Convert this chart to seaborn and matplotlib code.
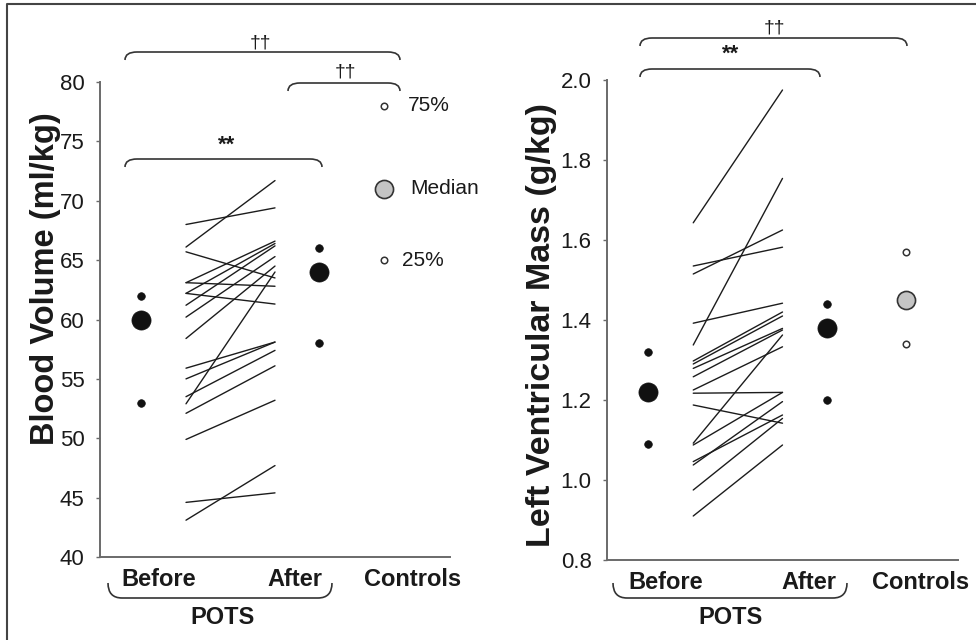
import numpy as np
import pandas as pd
import matplotlib
matplotlib.use("Agg")
import matplotlib.pyplot as plt
import matplotlib.transforms as mtransforms
from matplotlib.path import Path
from matplotlib.patches import PathPatch
from matplotlib.lines import Line2D
import seaborn as sns

# ---------------- data ----------------
categories = ["Before", "After", "Controls"]
group_label = "POTS"
legend_labels = ["75%", "Median", "25%"]

bv_before = [68.0, 66.1, 65.7, 63.1, 63.1, 62.2, 62.2, 61.2, 60.2, 58.4,
             52.9, 55.9, 55.0, 53.5, 52.1, 49.9, 44.6, 43.1]
bv_after = [69.4, 71.7, 63.5, 62.8, 66.6, 61.3, 66.4, 66.2, 65.3, 64.5,
            64.0, 58.1, 58.1, 57.4, 56.1, 53.2, 45.4, 47.7]
bv_q25 = [53, 58, 65]      # Before, After, Controls
bv_median = [60, 64, 71]
bv_q75 = [62, 66, 78]
bv_ticks = [40, 45, 50, 55, 60, 65, 70, 75, 80]

lvm_before = [1.643, 1.535, 1.515, 1.392, 1.3375, 1.2975, 1.29, 1.279, 1.258,
              1.225, 1.217, 1.1875, 1.092, 1.0875, 1.046, 1.0375, 0.975, 0.91]
lvm_after = [1.975, 1.582, 1.625, 1.442, 1.754, 1.42, 1.41, 1.379, 1.375,
             1.333, 1.219, 1.142, 1.3625, 1.219, 1.1625, 1.196, 1.154, 1.0875]
lvm_q25 = [1.09, 1.20, 1.34]
lvm_median = [1.22, 1.38, 1.45]
lvm_q75 = [1.32, 1.44, 1.57]
lvm_ticks = [0.8, 1.0, 1.2, 1.4, 1.6, 1.8, 2.0]

# ---------------- style ----------------
sns.set_style("white")
plt.rcParams["font.family"] = ["Liberation Sans", "DejaVu Sans"]

W, H = 976, 640
fig = plt.figure(figsize=(W / 100, H / 100), dpi=100)
T = mtransforms.Affine2D().scale(1 / W, -1 / H).translate(0, 1) + fig.transFigure

LINE_C = "#1c1c1c"
SPINE_C = "#6a6a6a"
TEXT_C = "#1a1a1a"


def add_axes(x0, x1, ytop, ybot):
    return fig.add_axes([x0 / W, (H - ybot) / H, (x1 - x0) / W, (ybot - ytop) / H])


def panel(ax, before, after, q25, med, q75, ylim, yticks, ylabel, fmt,
          x_ctrl, label_x, ylabel_coords, ylabel_size):
    xb, x0, x1, xa = 41, 86, 175, 219
    n = len(before)
    df = pd.DataFrame({
        "id": np.repeat(np.arange(n), 2),
        "x": np.tile([x0, x1], n),
        "v": np.column_stack([before, after]).ravel(),
    })
    sns.lineplot(data=df, x="x", y="v", units="id", estimator=None,
                 color=LINE_C, lw=1.0, ax=ax, legend=False)
    xs = [xb, xa, x_ctrl]
    sdf = pd.DataFrame({"x": xs, "q25": q25, "med": med, "q75": q75})
    pots = sdf.iloc[:2]
    ctrl = sdf.iloc[2:]
    sns.scatterplot(data=pots, x="x", y="med", s=190, color="#111111",
                    edgecolor="#111111", linewidth=0.5, ax=ax, zorder=5)
    for col in ["q25", "q75"]:
        sns.scatterplot(data=pots, x="x", y=col, s=30, color="#111111",
                        edgecolor="#111111", linewidth=0.5, ax=ax, zorder=5)
    sns.scatterplot(data=ctrl, x="x", y="med", s=170, color="#c4c4c4",
                    edgecolor="#333333", linewidth=1.2, ax=ax, zorder=5)
    for col in ["q25", "q75"]:
        sns.scatterplot(data=ctrl, x="x", y=col, s=22, color="white",
                        edgecolor="#333333", linewidth=1.1, ax=ax, zorder=5)

    ax.set_xlim(0, 350)
    ax.set_ylim(*ylim)
    ax.set_yticks(yticks)
    ax.set_yticklabels([fmt.format(t) for t in yticks])
    ax.set_xticks(label_x)
    ax.set_xticklabels(categories, fontweight="bold", fontsize=17, color=TEXT_C)
    ax.tick_params(axis="x", length=0, pad=8)
    ax.tick_params(axis="y", labelsize=16, length=3, width=1, color=SPINE_C,
                   pad=8, labelcolor=TEXT_C, left=True)
    ax.set_xlabel("")
    ax.set_ylabel(ylabel, fontsize=ylabel_size, fontweight="bold", color=TEXT_C)
    ax.yaxis.set_label_coords(*ylabel_coords)
    sns.despine(ax=ax)
    for s in ["left", "bottom"]:
        ax.spines[s].set_color(SPINE_C)
        ax.spines[s].set_linewidth(1.4)
    ax.set_facecolor("none")


axL = add_axes(100, 450, 82, 557)
panel(axL, bv_before, bv_after, bv_q25, bv_median, bv_q75, (40, 80), bv_ticks,
      "Blood Volume (ml/kg)", "{:g}", 284, [59, 195, 313], (-0.112, 0.586), 23.5)

axR = add_axes(607, 958, 80, 560)
panel(axR, lvm_before, lvm_after, lvm_q25, lvm_median, lvm_q75, (0.8, 2.0),
      lvm_ticks, "Left Ventricular Mass (g/kg)", "{:.1f}", 298, [59, 201, 313],
      (-0.143, 0.49), 24.5)

# legend labels beside control markers (left panel)
for lab, val, xo in zip(legend_labels, [bv_q75[2], bv_median[2], bv_q25[2]], [308, 310, 302]):
    axL.text(xo, val, lab, fontsize=15, va="center", ha="left", color=TEXT_C,
             clip_on=False)


# ---------------- brackets ----------------
def bracket(x0, x1, y, drop, r=12, lw=1.2):
    verts = [(x0, y + drop), (x0, y), (x0 + r, y), (x1 - r, y), (x1, y), (x1, y + drop)]
    codes = [Path.MOVETO, Path.CURVE3, Path.CURVE3, Path.LINETO, Path.CURVE3, Path.CURVE3]
    fig.add_artist(PathPatch(Path(verts, codes), fill=False, lw=lw, ec="#333333",
                             transform=T))


def ftext(x, y, s, **kw):
    fig.text(x / W, 1 - y / H, s, ha="center", va="center", color=TEXT_C, **kw)


bracket(125, 400, 52, 8)
ftext(260, 43, "††", fontsize=14)
bracket(288, 400, 83, 8)
ftext(345, 72, "††", fontsize=14)
bracket(125, 322, 159, 8)
ftext(227, 145, "**", fontsize=16, fontweight="bold")

bracket(640, 907, 38, 8)
ftext(774, 28, "††", fontsize=14)
bracket(640, 820, 69, 8)
ftext(731, 54, "**", fontsize=16, fontweight="bold")

# POTS braces
bracket(108, 332, 598, -15, r=14)
ftext(222, 618, group_label, fontsize=17, fontweight="bold")
bracket(613, 847, 598, -15, r=14)
ftext(730, 618, group_label, fontsize=17, fontweight="bold")

# outer frame (top and left edges visible)
fig.add_artist(Line2D([7, 7, 976], [640, 4, 4], transform=T, color="#444444", lw=1.5))

fig.savefig("out.png", dpi=100)
